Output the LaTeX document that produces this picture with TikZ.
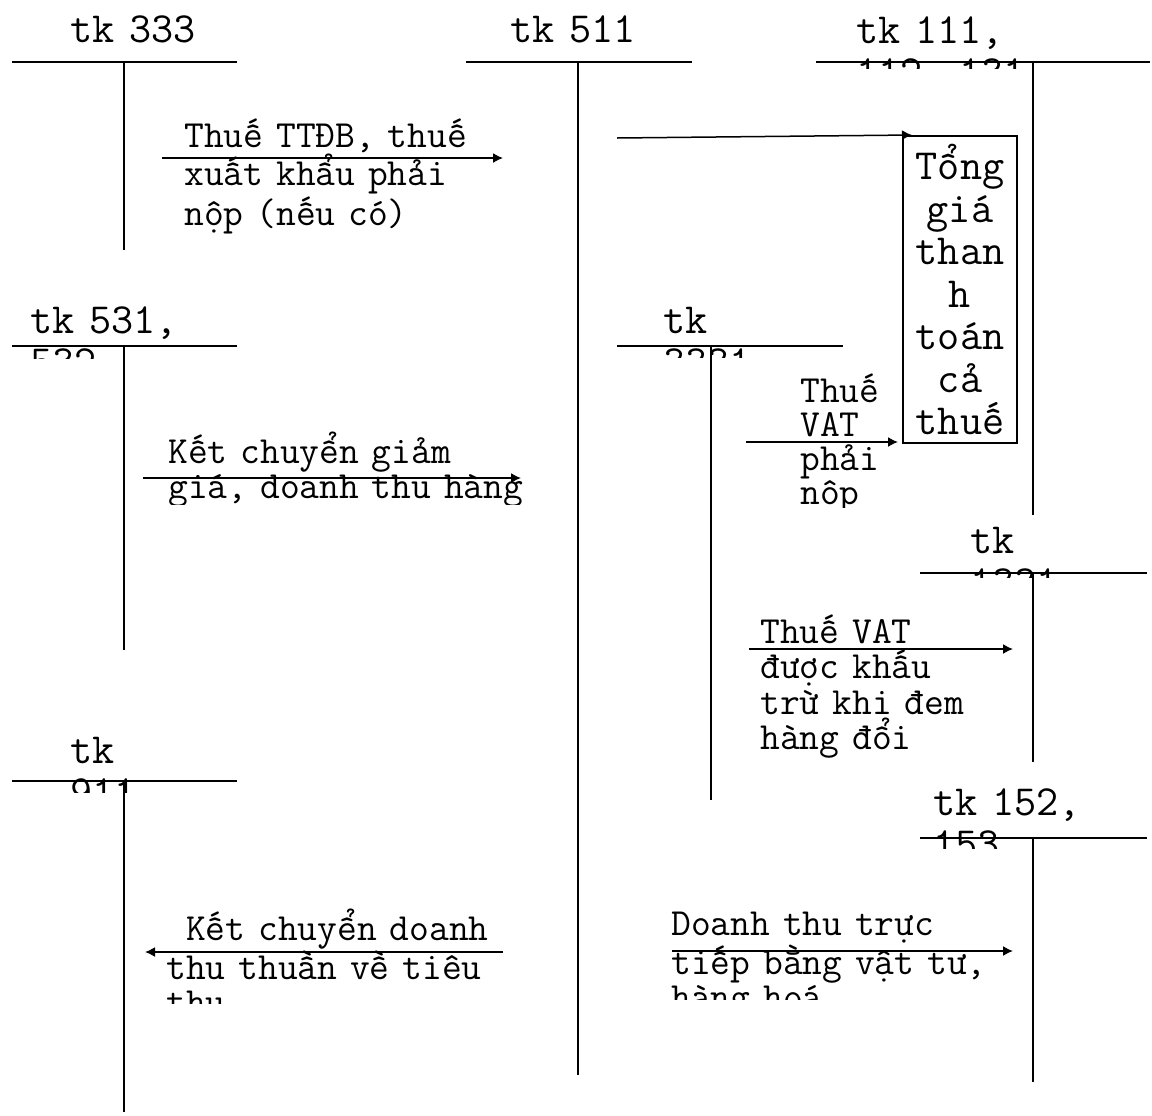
\documentclass[tikz,border=0pt]{standalone}
\usepackage{fontspec}
\usepackage{tikz}
\usetikzlibrary{arrows.meta, positioning}
\setlength{\lineskiplimit}{-100pt}
\tikzset{
  tline/.style={line width=1.25pt},
  tkhead/.style={anchor=base west, inner sep=0pt, align=left,
                 text width=180pt,
                 font=\ttfamily\fontsize{21.5}{21.25}\selectfont},
  flowtext/.style={anchor=base west, inner sep=0pt, align=left,
                   text width=220pt,
                   font=\ttfamily\fontsize{19.2}{17.75}\selectfont},
  totalbox/.style={draw, line width=0.75pt, inner sep=0pt, align=center,
                   text width=57pt, minimum height=153.5pt,
                   font=\ttfamily\fontsize{21.5}{21.25}\selectfont},
  posting/.style={-{Latex[length=5pt, width=5pt]}, line width=0.75pt}
}

\begin{document}
\begin{tikzpicture}[x=0.5pt, y=-0.5pt]
  \useasboundingbox (0,0) rectangle (1152,1115);

  % T accounts: left end / right end / stem / top / bottom
  \foreach \xl/\xr/\xm/\yt/\yb in {12/237/124/62/250, 466/692/578/62/1075,
      816/1150/1033/62/515, 12/237/124/346/650, 617/843/711/346/800,
      920/1147/1033/573/762, 12/237/124/781/1112, 920/1147/1033/838/1082}
    \draw[tline] (\xl,\yt) -- (\xr,\yt) (\xm,\yt) -- (\xm,\yb);

  % account titles
  \node[tkhead] (h333) at (70,42) {tk 333};
  \node[tkhead] (h511) at (510,42) {tk 511};
  \begin{scope}
    \clip (0,0) rectangle (1152,68);
    \node[tkhead] (h111) at (856,43) {tk 111,\\112, 131};
  \end{scope}
  \begin{scope}
    \clip (0,280) rectangle (600,358);
    \node[tkhead] (h531) at (30,333) {tk 531,\\532};
  \end{scope}
  \begin{scope}
    \clip (600,280) rectangle (900,357);
    \node[tkhead] (h3331) at (663,333) {tk\\3331};
  \end{scope}
  \begin{scope}
    \clip (900,510) rectangle (1152,577);
    \node[tkhead] (h1331) at (970,553) {tk\\1331};
  \end{scope}
  \begin{scope}
    \clip (0,720) rectangle (300,792);
    \node[tkhead] (h911) at (70,763) {tk\\911};
  \end{scope}
  \begin{scope}
    \clip (900,770) rectangle (1152,848);
    \node[tkhead] (h152) at (933,815) {tk 152,\\153};
  \end{scope}

  % total payment box
  \node[totalbox] (tong) at (960,289.5)
    {Tổng\\giá\\than\\h\\toán\\cả\\thuế};

  % arrow ends
  \coordinate (a0s) at (617,138);  \coordinate (a0e) at (912,135);
  \coordinate (a1s) at (162,158);  \coordinate (a1e) at (503,158);
  \coordinate (a2s) at (143,478);  \coordinate (a2e) at (521,478);
  \coordinate (a3s) at (746,442);  \coordinate (a3e) at (898,442);
  \coordinate (a4s) at (749,649);  \coordinate (a4e) at (1013,649);
  \coordinate (a5s) at (503,952);  \coordinate (a5e) at (145,952);
  \coordinate (a6s) at (672,951);  \coordinate (a6e) at (1013,951);

  \draw[posting] (a0s) -- (a0e);
  \draw[posting] (a1s) -- (a1e);
  \draw[posting] (a2s) -- (a2e);
  \draw[posting] (a3s) -- (a3e);
  \draw[posting] (a4s) -- (a4e);
  \draw[posting] (a5s) -- (a5e);
  \draw[posting] (a6s) -- (a6e);

  % entry texts
  \node[flowtext] (t1) at (184,147)
    {Thuế TTĐB, thuế\\xuất khẩu phải\\nộp (nếu có)};
  \begin{scope}
    \clip (130,420) rectangle (560,504);
    \node[flowtext] (t2) at (168,463)
      {Kết chuyển giảm\\giá, doanh thu hàng};
  \end{scope}
  \begin{scope}
    \clip (760,360) rectangle (900,507);
    \node[flowtext, font=\ttfamily\fontsize{19.2}{17}\selectfont] (t3)
      at (800,402) {Thuế\\VAT\\phải\\nộp};
  \end{scope}
  \begin{scope}
    \clip (740,600) rectangle (1020,757);
    \node[flowtext] (t4) at (760,643)
      {Thuế VAT\\được khấu\\trừ khi đem\\hàng đổi};
  \end{scope}
  \begin{scope}
    \clip (140,900) rectangle (520,1003);
    \node[flowtext] (t5) at (166,940)
      {\hphantom{K}Kết chuyển doanh\\thu thuần về tiêu\\thu};
  \end{scope}
  \begin{scope}
    \clip (660,890) rectangle (1030,999);
    \node[flowtext] (t6) at (671,935)
      {Doanh thu trực\\tiếp bằng vật tư,\\hàng hoá};
  \end{scope}
\end{tikzpicture}
\end{document}
